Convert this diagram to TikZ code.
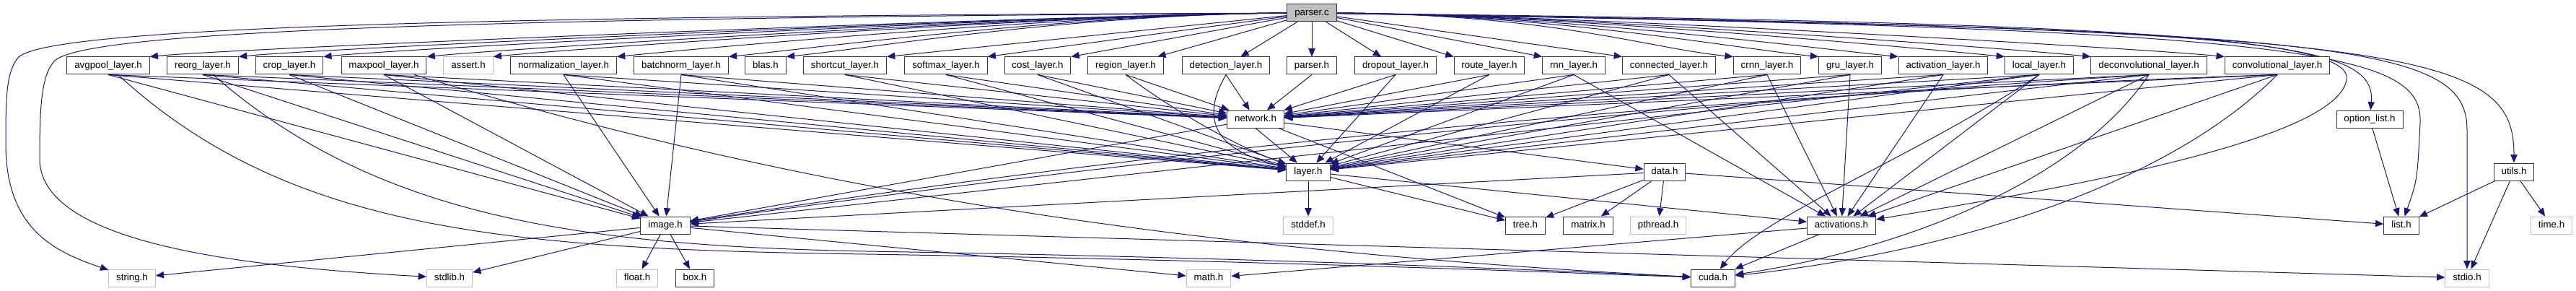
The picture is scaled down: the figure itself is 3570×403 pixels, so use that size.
\documentclass[tikz,border=0pt]{standalone}
\usepackage{fontspec}
\setmainfont{Liberation Sans}
\usepackage{tikz}
\usetikzlibrary{arrows.meta}
\definecolor{edge}{HTML}{191970}
\definecolor{sysline}{HTML}{BFBFBF}
\definecolor{srcfill}{HTML}{BFBFBF}
\pgfdeclarelayer{bg}
\pgfsetlayers{bg,main}

\begin{document}
\begin{tikzpicture}[x=0.75pt,y=-0.75pt,>=Latex,
  file/.style={draw=black!80,line width=0.75pt,fill=white,minimum height=18pt,inner xsep=7.8pt,inner ysep=0pt,text height=7.4pt,text depth=2pt,font=\fontsize{10pt}{12pt}\selectfont},
  sys/.style={file,draw=sysline},
  dep/.style={draw=edge,line width=0.75pt,-{Triangle[length=8.5pt,width=7pt]}}]
  \useasboundingbox (0,0) rectangle (3570,403);
  % files
  \node[file,fill=srcfill] (pc) at (1818,18) {parser.c};
  \foreach \n/\t/\x/\s in {avg/avgpool\_layer.h/150/file, reorg/reorg\_layer.h/281/file, crop/crop\_layer.h/401/file, maxp/maxpool\_layer.h/532/file, assrt/assert.h/649/sys, norm/normalization\_layer.h/781/file, bnorm/batchnorm\_layer.h/944/file, blas/blas.h/1061/file, short/shortcut\_layer.h/1171/file, soft/softmax\_layer.h/1311/file, cost/cost\_layer.h/1438/file, region/region\_layer.h/1560/file, detect/detection\_layer.h/1699/file, parseh/parser.h/1818/file, drop/dropout\_layer.h/1934/file, route/route\_layer.h/2064/file, rnn/rnn\_layer.h/2181/file, conn/connected\_layer.h/2313/file, crnn/crnn\_layer.h/2449/file, gru/gru\_layer.h/2564/file, actl/activation\_layer.h/2693/file, local/local\_layer.h/2826/file, deconv/deconvolutional\_layer.h/2978/file, conv/convolutional\_layer.h/3156/file}
    \node[\s] (\n) at (\x,91) {\t};
  \foreach \n/\t/\x/\y/\s in {net/network.h/1740/165/file, optl/option\_list.h/3284/165/file, layer/layer.h/1813/238/file, data/data.h/2307/238/file, utils/utils.h/3484/238/file, image/image.h/922/312/file, stddef/stddef.h/1813/312/sys, tree/tree.h/2114/312/file, matrix/matrix.h/2201/312/file, pthread/pthread.h/2298/312/sys, acts/activations.h/2552/312/file, list/list.h/3328/312/file, time/time.h/3536/312/sys, strh/string.h/183/385/sys, stdlib/stdlib.h/623/385/sys, float/float.h/883/385/sys, box/box.h/963/385/file, math/math.h/1675/385/sys, cuda/cuda.h/2374/385/file, stdio/stdio.h/3419/385/sys}
    \node[\s] (\n) at (\x,\y) {\t};
  \begin{pgfonlayer}{bg}
  % parser.c includes
  \foreach \n in {avg,reorg,crop,maxp,assrt,norm,bnorm,blas} \draw[dep] (pc.west) .. controls +(-300,2) and +(120,-12) .. (\n.north east);
  \foreach \n in {short,soft,cost} \draw[dep] (pc) -- (\n.north east);
  \foreach \n in {region,detect,parseh,drop} \draw[dep] (pc) -- (\n);
  \foreach \n in {route,rnn,conn} \draw[dep] (pc) -- (\n.north west);
  \foreach \n in {crnn,gru,actl,local,deconv,conv} \draw[dep] (pc.east) .. controls +(300,2) and +(-120,-12) .. (\n.north west);
  \draw[dep] (pc) .. controls (2900,30) and (3262,50) .. (3252,110) .. controls (3240,200) and (2800,270) .. (acts);
  \draw[dep] (pc) .. controls (3100,40) and (3295,50) .. (optl);
  \draw[dep] (pc) .. controls (3200,40) and (3358,70) .. (3354,170) .. controls (3350,250) .. (list);
  \draw[dep] (pc) .. controls (3250,40) and (3419,60) .. (3419,180) -- (stdio);
  \draw[dep] (pc) .. controls (3350,40) and (3484,70) .. (utils);
  \draw[dep] (pc) .. controls (600,22) and (60,40) .. (25,80) .. controls (8,100) and (8,140) .. (8,200) .. controls (8,320) and (80,350) .. (strh);
  \draw[dep] (pc) .. controls (600,25) and (110,45) .. (75,85) .. controls (57,105) and (55,150) .. (55,220) .. controls (55,340) and (350,370) .. (stdlib);
  % layer headers
  \foreach \n in {avg,reorg,crop,maxp,norm,bnorm,short,soft,cost,region,detect,parseh,drop,route,rnn,conn,crnn,gru,actl,local,deconv,conv} \draw[dep] (\n.south) -- (net);
  \foreach \n in {avg,reorg,crop,maxp,norm,bnorm,short,soft,cost,drop,route,rnn,conn,crnn,gru,actl,local,deconv,conv,net} \draw[dep] (\n.south) -- (layer);
  \draw[dep] (region.south) .. controls (1637,161) and (1722,206) .. (layer);
  \draw[dep] (detect.south) .. controls (1660,170) and (1690,210) .. (layer);
  \foreach \n in {rnn,conn,crnn,gru,actl,local,deconv,conv} \draw[dep] (\n.south) -- (acts);
  \foreach \n in {avg,reorg,crop,maxp,norm,bnorm,local} \draw[dep] (\n.south) -- (image);
  \draw[dep] (deconv.south) .. controls (2293,146) and (1607,216) .. (image);
  \draw[dep] (conv.south) .. controls (2411,128) and (1667,197) .. (image);
  \draw[dep] (local.south) .. controls (2650,220) and (2440,300) .. (cuda);
  \draw[dep] (deconv.south) .. controls (2880,250) and (2640,345) .. (cuda);
  \draw[dep] (conv.south) .. controls (3000,260) and (2700,350) .. (cuda);
  \draw[dep] (avg) .. controls (400,320) and (700,345) .. (1200,352) .. controls (1700,360) and (2100,375) .. (cuda);
  \draw[dep] (reorg) .. controls (520,300) and (800,340) .. (1200,348) .. controls (1700,356) and (2100,372) .. (cuda);
  \draw[dep] (maxp) .. controls (1000,230) and (1500,340) .. (cuda);
  % lower headers
  \foreach \n in {image,data,tree} \draw[dep] (net) -- (\n);
  \foreach \n in {stddef,tree,acts} \draw[dep] (layer) -- (\n);
  \foreach \n in {image,tree,matrix,pthread,list} \draw[dep] (data) -- (\n);
  \foreach \n in {strh,stdlib,float,box,math,stdio} \draw[dep] (image) -- (\n);
  \foreach \n in {math,cuda} \draw[dep] (acts) -- (\n);
  \draw[dep] (optl) -- (list);
  \foreach \n in {list,stdio,time} \draw[dep] (utils) -- (\n);
  \end{pgfonlayer}
\end{tikzpicture}
\end{document}
